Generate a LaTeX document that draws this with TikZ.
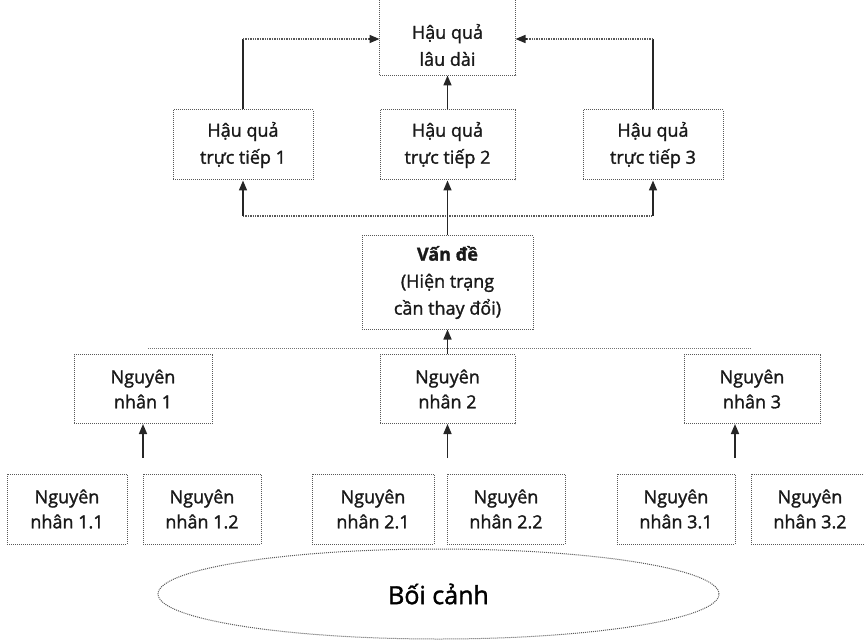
\documentclass[tikz,border=0pt]{standalone}
\usepackage{fontspec}
\setmainfont{Open Sans}[FakeBold=1.5]
\usetikzlibrary{arrows.meta,shapes.geometric}
\begin{document}
\begin{tikzpicture}[x=1pt,y=-1pt,
  frame/.style={draw=black!65, densely dotted, line width=1pt},
  bx/.style={frame, align=center, inner sep=0pt,
    font=\fontsize{18}{27}\selectfont, text=black!90},
  bxs/.style={bx, font=\fontsize{18}{25}\selectfont},
  arr/.style={-{Triangle[length=10pt,width=8pt]}, line width=1.6pt, black!85},
  hl/.style={line width=1.4pt, black!65, densely dotted},
  ln/.style={line width=1.6pt, black!85}]
\useasboundingbox (0,0) rectangle (864,644);
% top (frame extends above the page)
\node[bx, draw=none, minimum width=135, minimum height=60] (top) at (447.5,45) {Hậu quả\\lâu dài};
\coordinate (tt) at (447.5,-3);
\draw[frame] (top.south west) rectangle (top.east |- tt);
\coordinate (ty) at (447.5,39);
\node[bx, minimum width=140, minimum height=70] (t1) at (243,145) {Hậu quả\\trực tiếp 1};
\node[bx, minimum width=135, minimum height=70] (t2) at (447.5,145) {Hậu quả\\trực tiếp 2};
\node[bx, minimum width=140, minimum height=70] (t3) at (653,145) {Hậu quả\\trực tiếp 3};
\node[bx, minimum width=171, minimum height=93] (v) at (447.5,282.5) {\textbf{Vấn đề}\\(Hiện trạng\\cần thay đổi)};
% causes
\node[bxs, minimum width=138, minimum height=69] (n1) at (143,389) {Nguyên\\nhân 1};
\node[bxs, minimum width=135, minimum height=69] (n2) at (447.5,389) {Nguyên\\nhân 2};
\node[bxs, minimum width=136, minimum height=69] (n3) at (752,389) {Nguyên\\nhân 3};
% sub causes
\node[bxs, minimum width=120, minimum height=70] (n11) at (67,509) {Nguyên\\nhân 1.1};
\node[bxs, minimum width=118, minimum height=70] (n12) at (202,509) {Nguyên\\nhân 1.2};
\node[bxs, minimum width=122, minimum height=70] (n21) at (373,509) {Nguyên\\nhân 2.1};
\node[bxs, minimum width=118, minimum height=70] (n22) at (506,509) {Nguyên\\nhân 2.2};
\node[bxs, minimum width=118, minimum height=70] (n31) at (676,509) {Nguyên\\nhân 3.1};
\node[bxs, minimum width=118, minimum height=70] (n32) at (810,509) {Nguyên\\nhân 3.2};
% context
\node[frame, ellipse, minimum width=561, minimum height=90, inner sep=0pt,
  font=\fontsize{25}{30}\selectfont] (ctx) at (438.5,594) {Bối cảnh};
% connectors top
\draw[ln] (t1.north) -- (t1.north |- ty);
\draw[hl] (t1.north |- ty) -- ([xshift=-10pt]top.west |- ty);
\draw[arr] ([xshift=-11pt]top.west |- ty) -- (top.west |- ty);
\draw[ln] (t3.north) -- (t3.north |- ty);
\draw[hl] (t3.north |- ty) -- ([xshift=10pt]top.east |- ty);
\draw[arr] ([xshift=11pt]top.east |- ty) -- (top.east |- ty);
\draw[arr] (t2.north) -- (top.south);
% fan from problem
\coordinate (j) at (447.5,216);
\draw[hl] (t1.south |- j) -- (t3.south |- j);
\draw[arr] (t1.south |- j) -- (t1.south);
\draw[arr] (t3.south |- j) -- (t3.south);
\draw[arr] (v.north) -- (t2.south);
% separator
\coordinate (sl) at (148,348);
\coordinate (sr) at (752,348);
\draw[line width=1pt, black!55, densely dotted] (sl) -- (sr);
\draw[arr] (n2.north) -- (v.south);
% arrows into causes
\coordinate (a1) at (143,458);
\coordinate (a2) at (447.5,458);
\coordinate (a3) at (735,458);
\draw[arr] (a1) -- (a1 |- n1.south);
\draw[arr] (a2) -- (a2 |- n2.south);
\draw[arr] (a3) -- (a3 |- n3.south);
\end{tikzpicture}
\end{document}
